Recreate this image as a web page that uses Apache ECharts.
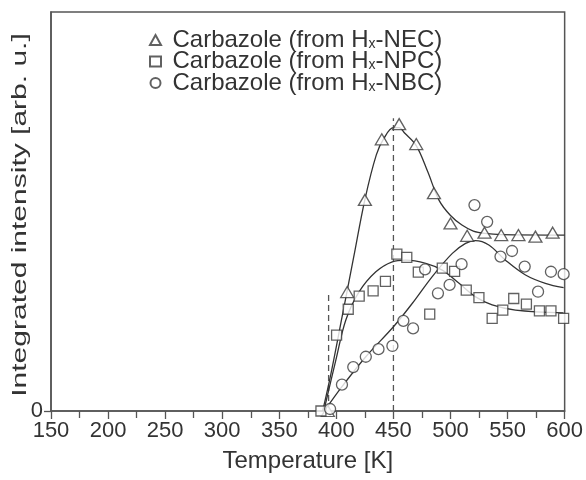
<!DOCTYPE html>
<html>
<head>
<meta charset="utf-8">
<script src="https://cdn.jsdelivr.net/npm/echarts@6/dist/echarts.min.js"></script>
<style>html,body{margin:0;padding:0;background:#fff}#c{width:586px;height:480px}</style>
</head>
<body>
<div id="c"></div>
<script>
// Tick labels
const xTicks = [150, 200, 250, 300, 350, 400, 450, 500, 550, 600];
const yTicks = [0];
// Axis titles and series names
const xTitle = 'Temperature [K]';
const yTitle = 'Integrated intensity [arb. u.]';
const names = ['Carbazole (from Hx-NEC)', 'Carbazole (from Hx-NPC)', 'Carbazole (from Hx-NBC)'];
// Measured points [T, intensity]
const necPoints = [[392.5,0],[409.5,29.8],[425,52.9],[439.8,68.1],[455,71.9],[470,66.9],[485.5,54.6],[500,47.0],[514.6,43.9],[529.8,44.7],[544.4,44.1],[559.5,44.1],[574.4,43.7],[589.5,44.7]];
const npcPoints = [[386.5,0],[400.2,19.0],[410.4,25.5],[420,28.8],[432.2,30.1],[443,32.5],[453,39.3],[461.7,38.5],[471.8,34.8],[481.8,24.3],[492.8,35.8],[503.6,35.0],[513.8,30.3],[524.9,28.4],[536.5,23.2],[545.8,25.3],[555.4,28.2],[566.5,26.8],[577.9,25.1],[588,25.1],[599.1,23.2]];
const nbcPoints = [[394.5,0.5],[404.9,6.6],[414.8,11.0],[425.8,13.6],[436.9,15.5],[449.1,16.3],[458.7,22.6],[467.2,20.7],[477.7,35.5],[489,29.5],[499.2,31.6],[509.7,36.8],[521,51.6],[532.1,47.4],[543.8,38.7],[553.9,40.1],[565,36.2],[576.7,29.9],[588,34.9],[599.1,34.3]];
// Fitted curves
const necFit = [[388,0],[395,9],[405,23.6],[415,38.3],[425,53],[435,64.2],[442,68.5],[450,71],[455,71],[460,69.6],[470,66.5],[480,60],[490,52.8],[500,49],[510,46.6],[520,45.1],[530,44.5],[545,44.2],[600,44.1]];
const npcFit = [[389,0],[399.6,12.8],[408.3,22.8],[420,29.9],[434.6,34.9],[449,37.4],[460.8,37.8],[478.3,37.0],[492.8,35.3],[507.5,32.0],[522,28.6],[536.5,26.6],[556.9,25.3],[599,24.6]];
const nbcFit = [[389.5,0],[404.9,6.1],[425.8,13.6],[450.6,21.3],[466.6,27.0],[484,33.7],[501.6,39.5],[513.2,42.0],[521.8,42.7],[533.6,41.6],[548.2,37.8],[565.7,34.1],[583.1,32.0],[599.1,30.9]];
// Dashed guide lines
const guide1 = [[450,0],[450,73.4]];
const guide2 = [[393.2,0],[393.2,30]];

const FONT = '"Liberation Sans", Arial, Helvetica, sans-serif';
const INK = '#333';
const AX = '#555';

const chart = echarts.init(document.getElementById('c'), null, {renderer: 'canvas'});

function scatter(name, data, symbol, size) {
  return {
    name: name, type: 'scatter', data: data, symbol: symbol, symbolSize: size,
    itemStyle: {color: '#fff', borderColor: '#3a3a3a', borderWidth: 1.3},
    z: 3
  };
}
function fit(data) {
  return {
    type: 'line', data: data, smooth: 0.35, symbol: 'none',
    lineStyle: {color: INK, width: 1.3}, z: 2, silent: true
  };
}
function guide(data) {
  return {
    type: 'line', data: data, symbol: 'none',
    lineStyle: {color: AX, width: 1.3, type: [6, 4]}, z: 1, silent: true
  };
}

chart.setOption({
  animation: false,
  backgroundColor: '#fff',
  grid: {left: 51, right: 20, top: 12, bottom: 69, show: true, borderColor: AX, borderWidth: 1.5, backgroundColor: 'transparent'},
  legend: {
    data: names,
    orient: 'vertical',
    left: 144, top: 23,
    itemWidth: 11, itemHeight: 10, itemGap: -2.5,
    selectedMode: false,
    formatter: function (n) {
      const parts = n.split('Hx');
      return '{sp|}{a|' + parts[0] + 'H}{s|x}{a|' + parts[1] + '}';
    },
    textStyle: {
      color: INK, fontFamily: FONT, fontSize: 24,
      rich: {
        sp: {width: 6.5, lineHeight: 21.5},
        a: {fontSize: 24, fontFamily: FONT, color: INK, lineHeight: 21.5},
        s: {fontSize: 14, fontFamily: FONT, color: INK, lineHeight: 9, verticalAlign: 'bottom'}
      }
    }
  },
  graphic: [{
    type: 'text', x: 20, y: 215, rotation: Math.PI / 2, scaleX: 1.5, scaleY: 1,
    style: {text: yTitle, font: '20px "Liberation Sans", Arial, sans-serif', fill: INK, align: 'center', verticalAlign: 'middle'},
    silent: true
  }],
  xAxis: {
    type: 'value', min: 150, max: 600, interval: 50,
    name: xTitle, nameLocation: 'middle', nameGap: 38,
    nameTextStyle: {color: INK, fontFamily: FONT, fontSize: 24},
    axisLine: {show: true, lineStyle: {color: AX, width: 1.5}},
    axisTick: {show: true, length: 8, inside: false, lineStyle: {color: AX, width: 1.3}},
    minorTick: {show: true, splitNumber: 2, length: 7, lineStyle: {color: AX, width: 1.3}},
    axisLabel: {color: INK, fontFamily: FONT, fontSize: 22, margin: 9,
      customValues: xTicks},
    splitLine: {show: false}
  },
  yAxis: {
    type: 'value', min: 0, max: 100,
    axisLine: {show: true, lineStyle: {color: AX, width: 1.5}},
    axisTick: {show: true, length: 7, customValues: yTicks, lineStyle: {color: AX, width: 1.3}},
    axisLabel: {color: INK, fontFamily: FONT, fontSize: 22, margin: 8, customValues: yTicks},
    splitLine: {show: false}
  },
  series: [
    scatter(names[0], necPoints, 'triangle', [13, 11]),
    scatter(names[1], npcPoints, 'rect', 10),
    scatter(names[2], nbcPoints, 'circle', 11),
    fit(necFit), fit(npcFit), fit(nbcFit),
    guide(guide1), guide(guide2)
  ]
});
</script>
</body>
</html>
